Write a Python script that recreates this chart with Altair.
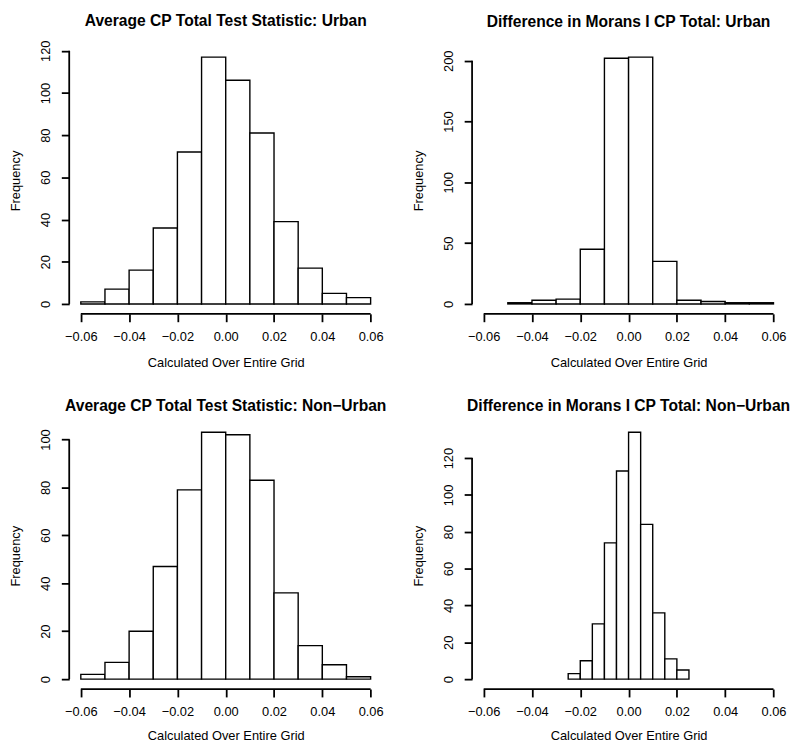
import altair as alt
import pandas as pd

FONT = "Liberation Sans"

# ---- text ----
titles = [
    "Average CP Total Test Statistic: Urban",
    "Difference in Morans I CP Total: Urban",
    "Average CP Total Test Statistic: Non\u2212Urban",
    "Difference in Morans I CP Total: Non\u2212Urban",
]
x_title = "Calculated Over Entire Grid"
y_title = "Frequency"
x_ticks = [-0.06, -0.04, -0.02, 0.00, 0.02, 0.04, 0.06]

# ---- data (bin starts + counts) ----
p1_bins = [-0.06, -0.05, -0.04, -0.03, -0.02, -0.01, 0.00, 0.01, 0.02, 0.03, 0.04, 0.05]
p1_counts = [1, 7, 16, 36, 72, 117, 106, 81, 39, 17, 5, 3]
p1_yticks = [0, 20, 40, 60, 80, 100, 120]

p2_bins = [-0.05, -0.04, -0.03, -0.02, -0.01, 0.00, 0.01, 0.02, 0.03, 0.04, 0.05]
p2_counts = [1, 3, 4, 45, 202, 203, 35, 3, 2, 1, 1]
p2_yticks = [0, 50, 100, 150, 200]

p3_bins = [-0.06, -0.05, -0.04, -0.03, -0.02, -0.01, 0.00, 0.01, 0.02, 0.03, 0.04, 0.05]
p3_counts = [2, 7, 20, 47, 79, 103, 102, 83, 36, 14, 6, 1]
p3_yticks = [0, 20, 40, 60, 80, 100]

p4_bins = [-0.025, -0.020, -0.015, -0.010, -0.005, 0.000, 0.005, 0.010, 0.015, 0.020]
p4_counts = [3, 10, 30, 74, 113, 134, 84, 36, 11, 5]
p4_yticks = [0, 20, 40, 60, 80, 100, 120]

bin_widths = [0.01, 0.01, 0.01, 0.005]

W, H = 317, 270
XDOM = [-0.0648, 0.0648]


def panel(title, bins, bw, counts, yticks, t_offset, xt_pad, yt_pad):
    df = pd.DataFrame({"start": bins, "count": counts})
    df["end"] = df["start"] + bw
    ymax = max(counts)
    ydom = [-0.04 * ymax, 1.04 * ymax]

    bars = alt.Chart(df).mark_rect(fill="white", stroke="black", strokeWidth=1.4).encode(
        x=alt.X("start:Q",
                scale=alt.Scale(domain=XDOM, nice=False, zero=False),
                axis=alt.Axis(values=x_ticks, format=".2f", title=x_title,
                              titlePadding=xt_pad)),
        x2="end:Q",
        y=alt.Y("count:Q",
                scale=alt.Scale(domain=ydom, nice=False, zero=False),
                axis=alt.Axis(values=yticks, format="d", title=y_title,
                              labelAngle=270, labelAlign="center",
                              labelBaseline="bottom", titlePadding=yt_pad)),
        y2=alt.datum(0),
    )
    one = pd.DataFrame({"k": [0]})
    xline = alt.Chart(one).mark_rule(color="black", strokeWidth=1.8).encode(
        x=alt.datum(x_ticks[0]), x2=alt.datum(x_ticks[-1]), y=alt.datum(ydom[0]))
    yline = alt.Chart(one).mark_rule(color="black", strokeWidth=1.8).encode(
        x=alt.datum(XDOM[0]), y=alt.datum(yticks[0]), y2=alt.datum(yticks[-1]))

    return alt.layer(bars, xline, yline).properties(
        width=W, height=H,
        title=alt.TitleParams(title, font=FONT, fontSize=15.8, fontWeight="bold",
                              color="black", anchor="middle", frame="group",
                              baseline="alphabetic", offset=t_offset),
    )


c1 = panel(titles[0], p1_bins, bin_widths[0], p1_counts, p1_yticks, -2, 13, 17)
c2 = panel(titles[1], p2_bins, bin_widths[1], p2_counts, p2_yticks, 5, 13, 17)
c3 = panel(titles[2], p3_bins, bin_widths[2], p3_counts, p3_yticks, -4, 11, 17)
c4 = panel(titles[3], p4_bins, bin_widths[3], p4_counts, p4_yticks, -4, 11, 17)

chart = alt.concat(
    c1, c2, c3, c4, columns=2,
    spacing=alt.RowColnumber(row=110, column=91),
    bounds="flush",
).properties(
    padding={"left": 2, "top": 0, "right": 0, "bottom": 0},
    background="white",
).configure(font=FONT).configure_view(strokeWidth=0).configure_axis(
    domain=False, grid=False,
    tickColor="black", tickWidth=1.8, tickSize=8,
    labelFont=FONT, labelFontSize=13, labelColor="black", labelPadding=9,
    labelOverlap=False, labelFlush=False,
    titleFont=FONT, titleFontSize=13, titleFontWeight="normal", titleColor="black",
)

chart.save("out.html", embed_options={"renderer": "svg", "actions": False})
